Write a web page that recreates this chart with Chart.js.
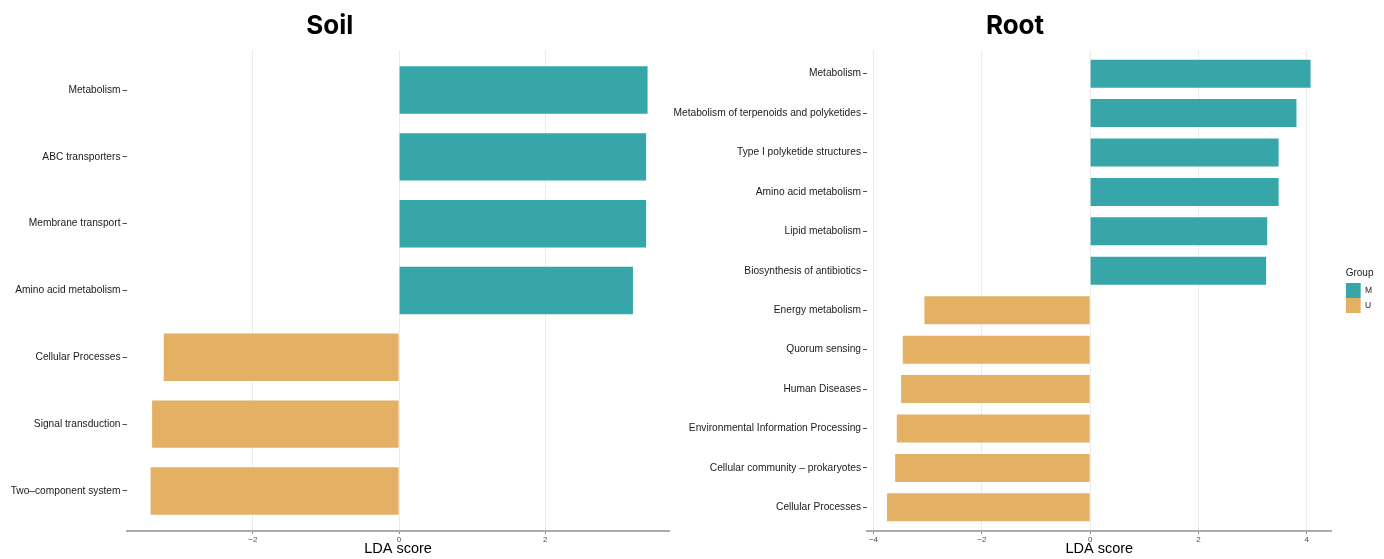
<!DOCTYPE html>
<html>
<head>
<meta charset="utf-8">
<title>LDA score</title>
<script src="https://cdn.jsdelivr.net/npm/chart.js@4/dist/chart.umd.min.js"></script>
<style>
  body { margin: 0; background: #fff; overflow: hidden; }
  .panel { position: absolute; top: 0; }
  #soilPanel { left: -10px; }
  #rootPanel { left: 662px; }
</style>
</head>
<body>
<div class="panel" id="soilPanel"><canvas id="soilChart" width="700" height="559"></canvas></div>
<div class="panel" id="rootPanel"><canvas id="rootChart" width="722" height="559"></canvas></div>
<script>
// Soil pathways, top to bottom
const soilCategories = [
  "Metabolism",
  "ABC transporters",
  "Membrane transport",
  "Amino acid metabolism",
  "Cellular Processes",
  "Signal transduction",
  "Two–component system",
];
const soilScores = [3.40, 3.38, 3.38, 3.20, -3.22, -3.38, -3.40];
const soilGroups = ["M", "M", "M", "M", "U", "U", "U"];
const soilTicks = [-2, 0, 2];

// Root pathways, top to bottom
const rootCategories = [
  "Metabolism",
  "Metabolism of terpenoids and polyketides",
  "Type I polyketide structures",
  "Amino acid metabolism",
  "Lipid metabolism",
  "Biosynthesis of antibiotics",
  "Energy metabolism",
  "Quorum sensing",
  "Human Diseases",
  "Environmental Information Processing",
  "Cellular community – prokaryotes",
  "Cellular Processes",
];
const rootScores = [4.07, 3.81, 3.48, 3.48, 3.27, 3.25, -3.06, -3.46, -3.49, -3.57, -3.60, -3.75];
const rootGroups = ["M", "M", "M", "M", "M", "M", "U", "U", "U", "U", "U", "U"];
const rootTicks = [-4, -2, 0, 2, 4];

const groupNames = ["M", "U"];
const groupColors = { M: "#37A6A8", U: "#E3B064" };

Chart.defaults.font.family = "'Liberation Sans', Arial, sans-serif";
Chart.defaults.color = "#1a1a1a";

// one dataset per group so the legend lists M and U; stacking keeps one bar per row
const groupDatasets = (scores, groups) =>
  groupNames.map((g) => ({
    label: g,
    data: scores.map((v, i) => (groups[i] === g ? v : null)),
    backgroundColor: groupColors[g],
    borderWidth: 0,
    categoryPercentage: 1,
    barPercentage: 0.71,
  }));

// leave 0.6 of a row above the first bar and below the last one
const expandRows = (scale) => {
  const n = scale.getLabels().length;
  scale._startValue = -0.6;
  scale._valueRange = n - 1 + 1.2;
};

const minusSign = (v) => (v < 0 ? "\u2212" + Math.abs(v) : String(v));

// moves the legend box off the plot edge
const legendNudge = {
  id: "legendNudge",
  afterLayout(chart, args, opts) {
    const lg = chart.legend;
    if (!lg) return;
    lg.left += opts.dx || 0;
    lg.right += opts.dx || 0;
    lg.top += opts.dy || 0;
    lg.bottom += opts.dy || 0;
  },
};

const makeChart = function (id, title, categories, scores, groups, ticks, range, axisWidth, padRight, showLegend) {
  const ctx = document.getElementById(id).getContext("2d");
  return new Chart(ctx, {
    type: "bar",
    data: {
      labels: categories,
      datasets: groupDatasets(scores, groups),
    },
    plugins: [legendNudge],
    options: {
      indexAxis: "y",
      responsive: false,
      animation: false,
      layout: { padding: { left: 0, right: padRight, top: 0, bottom: 0 } },
      plugins: {
        title: {
          display: true,
          text: title,
          color: "#000",
          font: { family: "Inter", size: 26, weight: "bold" },
          padding: { top: 11, bottom: 7.8 },
        },
        legend: {
          display: showLegend,
          position: "right",
          align: "center",
          labels: {
            boxWidth: 15,
            boxHeight: 15,
            padding: 0,
            color: "#1a1a1a",
            font: { size: 8.5 },
          },
          title: {
            display: true,
            text: "Group",
            position: "start",
            color: "#1a1a1a",
            font: { size: 10 },
            padding: { top: 0, bottom: 3 },
          },
        },
        legendNudge: { dx: 14, dy: 11 },
        tooltip: { enabled: false },
      },
      scales: {
        x: {
          stacked: true,
          min: range[0],
          max: range[1],
          afterBuildTicks: (scale) => {
            scale.ticks = ticks.map((value) => ({ value }));
          },
          afterFit: (scale) => {
            scale.height = 28;
          },
          grid: {
            color: "#EBEBEB",
            lineWidth: 1,
            drawTicks: true,
            tickLength: 3,
            tickColor: "#8c8c8c",
          },
          border: { display: true, color: "#ABABAB", width: 2 },
          ticks: {
            color: "#4d4d4d",
            font: { size: 8 },
            padding: 1,
            callback: (v) => minusSign(v),
          },
          title: {
            display: true,
            text: "LDA score",
            color: "#000",
            font: { size: 14.5 },
            padding: { top: 0, bottom: 1 },
          },
        },
        y: {
          stacked: true,
          afterBuildTicks: expandRows,
          afterFit: (scale) => {
            scale.width = axisWidth;
          },
          grid: {
            drawOnChartArea: false,
            drawTicks: true,
            tickLength: 4,
            tickColor: "#4d4d4d",
            offset: false,
          },
          border: { display: false },
          ticks: {
            color: "#1a1a1a",
            font: { size: 10.2 },
            padding: 2,
            autoSkip: false,
          },
        },
      },
    },
  });
};

makeChart("soilChart", "Soil", soilCategories, soilScores, soilGroups, soilTicks, [-3.73, 3.70], 136.5, 20.5, false);
makeChart("rootChart", "Root", rootCategories, rootScores, rootGroups, rootTicks, [-4.12, 4.46], 205, 16, true);
</script>
</body>
</html>
